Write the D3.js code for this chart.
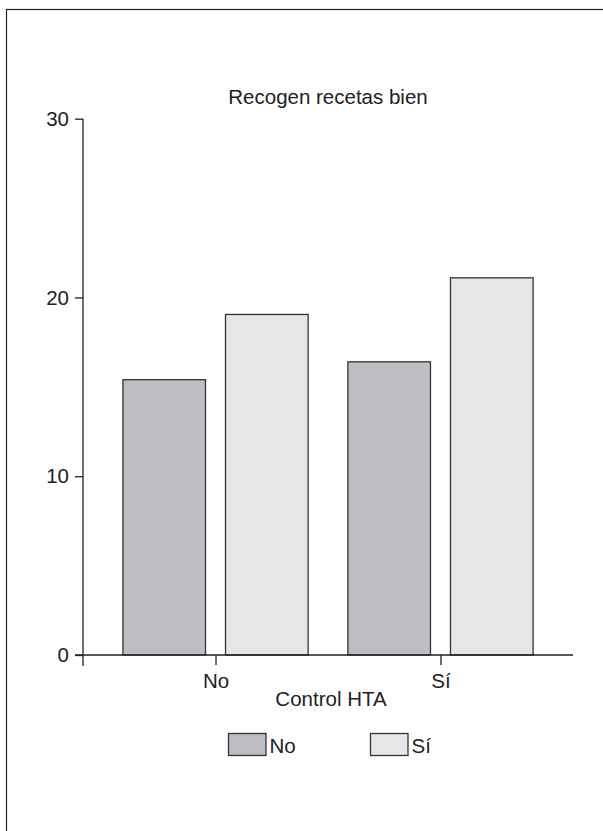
<!DOCTYPE html>
<html>
<head>
<meta charset="utf-8">
<script src="https://cdn.jsdelivr.net/npm/d3@7"></script>
<style>
  html, body { margin: 0; padding: 0; background: #fff; }
  svg { display: block; }
  text { font-family: "Liberation Sans", Arial, Helvetica, sans-serif; fill: #222; }
</style>
</head>
<body>
<svg id="chart" width="603" height="831"></svg>
<script>
// ---- data ----
const categories = ["No", "Sí"];          // Control HTA
const seriesNames = ["No", "Sí"];         // Recogen recetas bien
const valuesNo = [15.4, 16.4];
const valuesSi = [19.05, 21.1];
const yTicks = [0, 10, 20, 30];
const title = "Recogen recetas bien";
const xTitle = "Control HTA";
const colors = ["#bdbec2", "#e5e6e8"];

const svg = d3.select("#chart");
const ink = "#222";
const fs = 20.5;

// outer frame
svg.append("rect").attr("x", 6.5).attr("y", 9.5).attr("width", 620).attr("height", 840)
  .attr("fill", "none").attr("stroke", ink).attr("stroke-width", 1.2);

const plotLeft = 83, plotRight = 573, plotTop = 118.7, plotBottom = 655;

const y = d3.scaleLinear().domain([0, 30]).range([plotBottom, plotTop]);
const x = d3.scalePoint().domain(categories).range([plotLeft, plotRight]).padding(0.589);
const xSub = d3.scaleBand().domain(seriesNames).range([-92.6, 92.6]).paddingInner(0.195);

const series = [valuesNo, valuesSi];

// bars
const g = svg.append("g");
categories.forEach((c, i) => {
  seriesNames.forEach((s, j) => {
    const v = series[j][i];
    g.append("rect")
      .attr("x", x(c) + xSub(s))
      .attr("y", y(v))
      .attr("width", xSub.bandwidth())
      .attr("height", y(0) - y(v))
      .attr("fill", colors[j])
      .attr("stroke", "#333")
      .attr("stroke-width", 1.3);
  });
});

// y axis
const yAxis = d3.axisLeft(y).tickValues(yTicks).tickSize(8).tickSizeOuter(0).tickPadding(6);
const ya = svg.append("g").attr("transform", `translate(${plotLeft},0)`).call(yAxis);
ya.select(".domain").remove();
ya.selectAll(".tick line").attr("stroke", ink).attr("stroke-width", 1.3);
ya.selectAll(".tick text").attr("font-size", fs).attr("fill", ink)
  .attr("font-family", "'Liberation Sans', Arial, sans-serif");
svg.append("line").attr("x1", plotLeft).attr("x2", plotLeft).attr("y1", plotTop).attr("y2", plotBottom + 11)
  .attr("stroke", ink).attr("stroke-width", 1.3);

// x axis
const xAxis = d3.axisBottom(x).tickSize(10).tickSizeOuter(0).tickPadding(8);
const xa = svg.append("g").attr("transform", `translate(0,${plotBottom})`).call(xAxis);
xa.select(".domain").remove();
xa.selectAll(".tick line").attr("stroke", ink).attr("stroke-width", 1.3);
xa.selectAll(".tick text").attr("font-size", fs).attr("fill", ink)
  .attr("font-family", "'Liberation Sans', Arial, sans-serif");
svg.append("line").attr("x1", plotLeft - 8).attr("x2", plotRight).attr("y1", plotBottom).attr("y2", plotBottom)
  .attr("stroke", ink).attr("stroke-width", 1.3);

// title
svg.append("text").attr("x", 328).attr("y", 104).attr("text-anchor", "middle")
  .attr("font-size", fs).text(title);

// x title
svg.append("text").attr("x", 331).attr("y", 706).attr("text-anchor", "middle")
  .attr("font-size", fs).text(xTitle);

// legend
const legX = [228.5, 370.5];
seriesNames.forEach((s, j) => {
  svg.append("rect").attr("x", legX[j]).attr("y", 733.5).attr("width", 37.5).attr("height", 22)
    .attr("fill", colors[j]).attr("stroke", "#333").attr("stroke-width", 1.3);
  svg.append("text").attr("x", legX[j] + 41).attr("y", 753).attr("font-size", fs).text(s);
});
</script>
</body>
</html>
